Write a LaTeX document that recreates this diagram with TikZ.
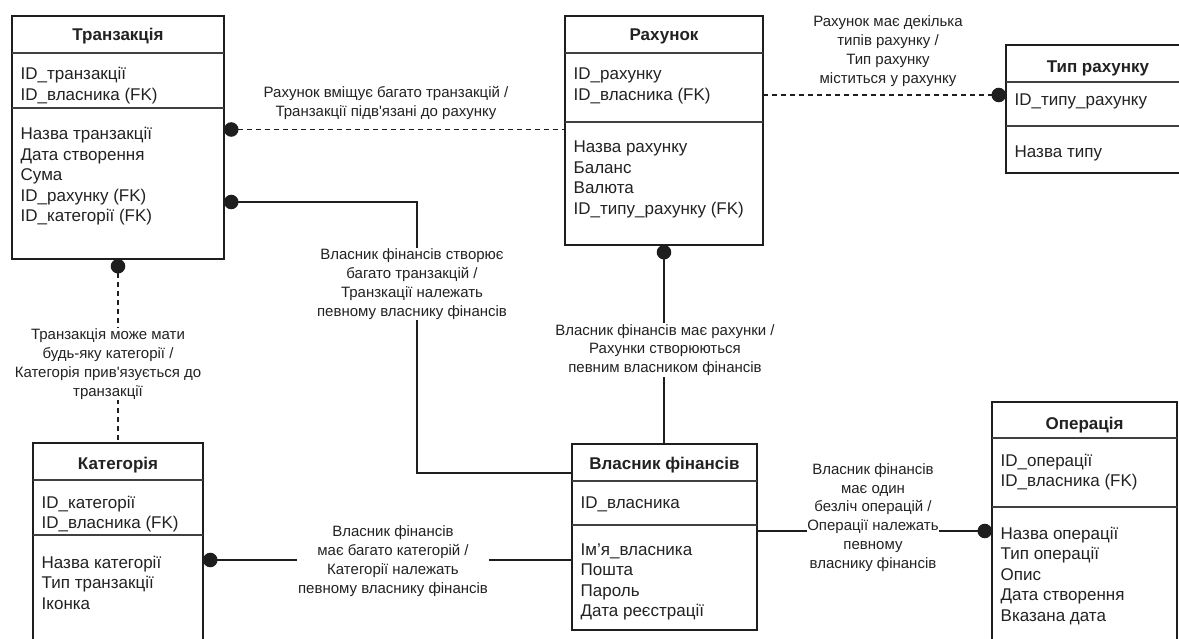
\documentclass[tikz,border=0pt]{standalone}
\usepackage{fontspec}
\newfontfamily\uafont{Liberation Sans}
\usetikzlibrary{arrows.meta}
\definecolor{inkline}{HTML}{1E1E1E}
\definecolor{inktext}{HTML}{222222}
% one line per attribute, stacked from a first baseline
\newcommand\fieldrows[4]{%
  \foreach \f [count=\i from 0] in {#4} \node[field] (#1\i) at (#2, #3+20.5*\i) {\f};}
\begin{document}
\begin{tikzpicture}[x=1pt,y=-1pt,
  entity/.style={draw=inkline, line width=1.4pt, anchor=north west, inner sep=0pt, outer sep=0pt},
  divider/.style={draw=inkline!85, line width=1.4pt},
  heading/.style={font=\uafont\bfseries\fontsize{17}{20}\selectfont, text=inktext, anchor=base, inner sep=0pt},
  field/.style={font=\uafont\fontsize{17}{20}\selectfont, text=inktext, anchor=base west, inner sep=0pt},
  relnote/.style={font=\uafont\fontsize{15}{18.8}\selectfont, text=inktext, align=center, fill=white, inner sep=1pt},
  link/.style={draw=inkline, line width=1.3pt},
  optional/.style={link, dash pattern=on 5pt off 4pt},
  dotfrom/.style={{Circle[length=14.5pt,width=14.5pt]}-},
  dotto/.style={-{Circle[length=14.5pt,width=14.5pt]}},
]
\useasboundingbox (0,0) rectangle (1179,639);
\fill[white] (0,0) rectangle (1179,639);
\clip (0,0) rectangle (1179,639);

% ---- Транзакція
\node[entity, minimum width=212pt, minimum height=243pt] (T) at (12,16) {};
\draw[divider] (T.west |- 0,53) -- (T.east |- 0,53);
\draw[divider] (T.west |- 0,108) -- (T.east |- 0,108);
\node[heading] (Th) at (118,41) {Транзакція};
\fieldrows{Ta}{20.5}{80}{ID\_транзакції, ID\_власника (FK)}
\fieldrows{Tb}{20.5}{140}{Назва транзакції, Дата створення, Сума, ID\_рахунку (FK), ID\_категорії (FK)}

% ---- Рахунок
\node[entity, minimum width=198pt, minimum height=229pt] (R) at (565,16) {};
\draw[divider] (R.west |- 0,53) -- (R.east |- 0,53);
\draw[divider] (R.west |- 0,122) -- (R.east |- 0,122);
\node[heading] (Rh) at (664,41) {Рахунок};
\fieldrows{Ra}{573.5}{80}{ID\_рахунку, ID\_власника (FK)}
\fieldrows{Rb}{573.5}{153}{Назва рахунку, Баланс, Валюта, ID\_типу\_рахунку (FK)}

% ---- Тип рахунку
\node[entity, minimum width=184pt, minimum height=128pt] (TR) at (1006,45) {};
\draw[divider] (TR.west |- 0,82) -- (TR.east |- 0,82);
\draw[divider] (TR.west |- 0,126) -- (TR.east |- 0,126);
\node[heading] (TRh) at (1098,73) {Тип рахунку};
\fieldrows{TRa}{1014.5}{106}{ID\_типу\_рахунку}
\fieldrows{TRb}{1014.5}{158}{Назва типу}

% ---- Категорія
\node[entity, minimum width=170pt, minimum height=230pt] (K) at (33,443) {};
\draw[divider] (K.west |- 0,480) -- (K.east |- 0,480);
\draw[divider] (K.west |- 0,535) -- (K.east |- 0,535);
\node[heading] (Kh) at (118,469) {Категорія};
\fieldrows{Ka}{41.5}{508}{ID\_категорії, ID\_власника (FK)}
\fieldrows{Kb}{41.5}{568}{Назва категорії, Тип транзакції, Іконка}

% ---- Власник фінансів
\node[entity, minimum width=185pt, minimum height=186pt] (V) at (572,444) {};
\draw[divider] (V.west |- 0,481) -- (V.east |- 0,481);
\draw[divider] (V.west |- 0,525) -- (V.east |- 0,525);
\node[heading] (Vh) at (664.5,469) {Власник фінансів};
\fieldrows{Va}{580.5}{508}{ID\_власника}
\fieldrows{Vb}{580.5}{555}{Ім’я\_власника, Пошта, Пароль, Дата реєстрації}

% ---- Операція
\node[entity, minimum width=185pt, minimum height=260pt] (O) at (992,402) {};
\draw[divider] (O.west |- 0,438) -- (O.east |- 0,438);
\draw[divider] (O.west |- 0,507) -- (O.east |- 0,507);
\node[heading] (Oh) at (1084.5,429) {Операція};
\fieldrows{Oa}{1000.5}{466}{ID\_операції, ID\_власника (FK)}
\fieldrows{Ob}{1000.5}{539}{Назва операції, Тип операції, Опис, Дата створення, Вказана дата}

% ---- relationships
\draw[optional, dotfrom] (T.east |- 0,129.5) -- (R.west |- 0,129.5);
\node[relnote, fill=none] (n1) at (386,103) {Рахунок вміщує багато транзакцій /\\Транзакції підв'язані до рахунку};

\coordinate (c2a) at (417,202);
\coordinate (c2b) at (417,473);
\draw[link, dotfrom] (T.east |- c2a) -- (c2a) -- (c2b) -- (V.west |- c2b);
\node[relnote] (n2) at (412,284) {Власник фінансів створює\\багато транзакцій /\\Транзкації належать\\певному власнику фінансів};

\draw[optional, dotfrom] (T.south) -- (T.south |- K.north);
\node[relnote] (n3) at (108,364) {Транзакція може мати\\будь-яку категорії /\\Категорія прив'язується до\\транзакції};

\draw[optional, dotto] (R.east |- 0,95) -- (TR.west |- 0,95);
\node[relnote, fill=none] (n4) at (888,51) {Рахунок має декілька\\типів рахунку /\\Тип рахунку\\міститься у рахунку};

\draw[link, dotfrom] (R.south) -- (R.south |- V.north);
\node[relnote] (n5) at (665,350) {Власник фінансів має рахунки /\\Рахунки створюються\\певним власником фінансів};

\draw[link, dotfrom] (K.east |- 0,560) -- (V.west |- 0,560);
\node[relnote] (n6) at (393,561) {Власник фінансів\\має багато категорій /\\Категорії належать\\певному власнику фінансів};

\draw[link, dotto] (V.east |- 0,531) -- (O.west |- 0,531);
\node[relnote, inner sep=0.3pt] (n7) at (873,517.5) {Власник фінансів\\має один\\безліч операцій /\\Операції належать\\певному\\власнику фінансів};
\end{tikzpicture}
\end{document}
